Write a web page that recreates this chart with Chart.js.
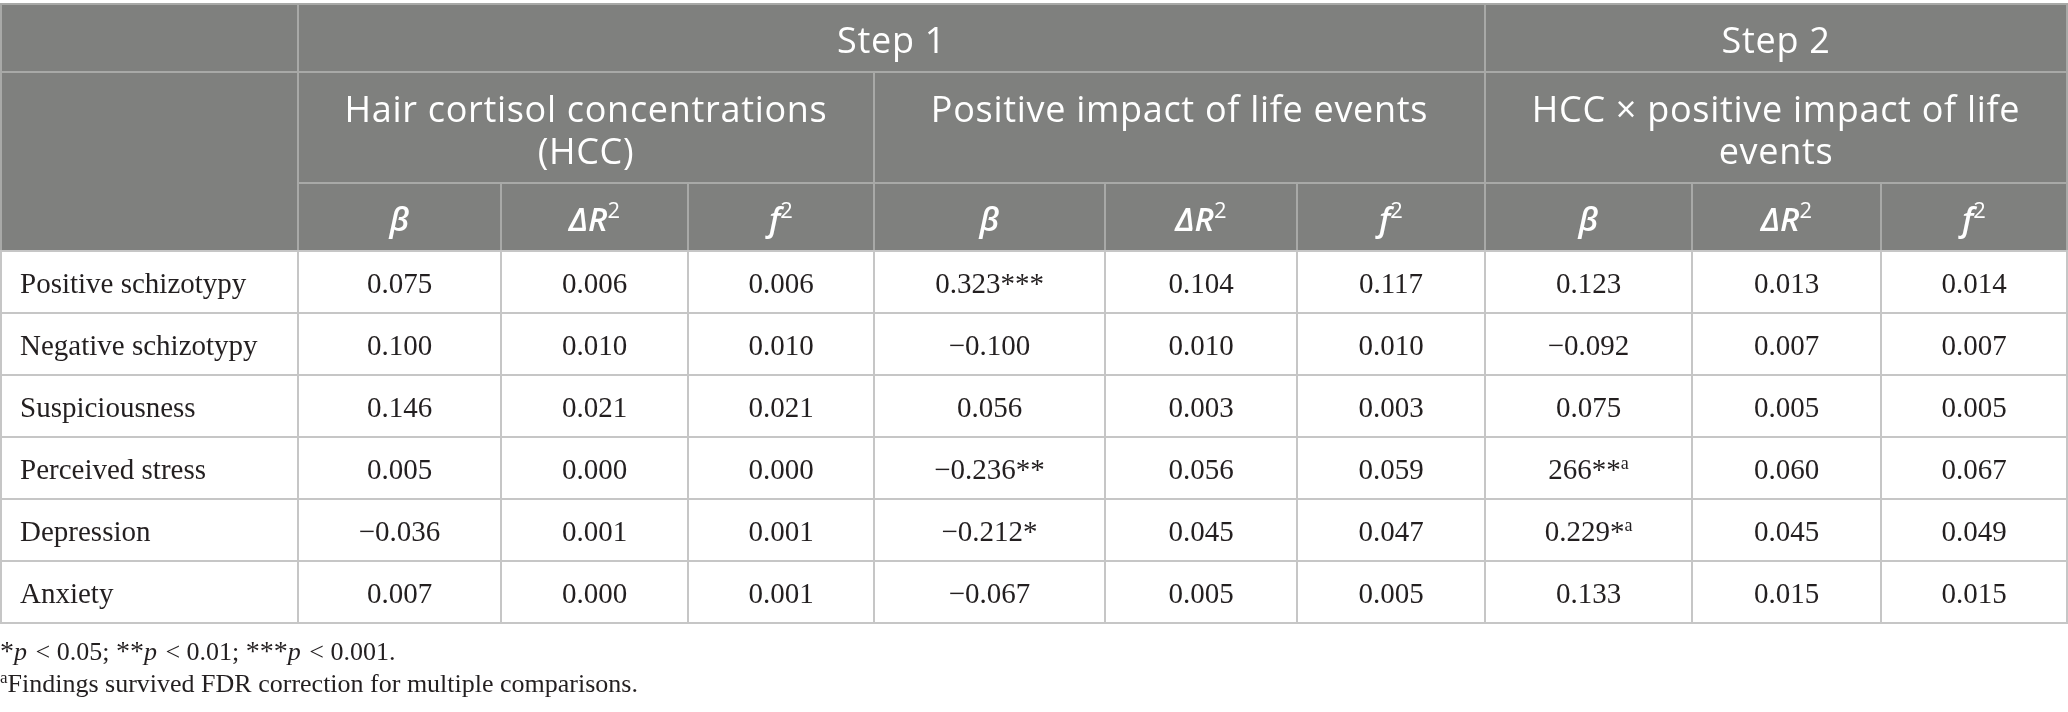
<!DOCTYPE html>
<html>
<head>
<meta charset="utf-8">
<script src="https://cdn.jsdelivr.net/npm/chart.js@4.4.0/dist/chart.umd.min.js"></script>
<style>
  html, body { margin: 0; padding: 0; background: #fff; }
  #wrap { width: 2068px; height: 712px; }
</style>
</head>
<body>
<div id="wrap"><canvas id="tableChart"></canvas></div>
<script>
// table content
const outcomes = ["Positive schizotypy", "Negative schizotypy", "Suspiciousness", "Perceived stress", "Depression", "Anxiety"];
const steps = ["Step 1", "Step 2"];
const predictors = ["Hair cortisol concentrations\n(HCC)", "Positive impact of life events", "HCC \u00d7 positive impact of life\nevents"];
const statNames = ["\u03b2", "\u0394R2", "f2"];

const hccBeta = [0.075, 0.100, 0.146, 0.005, -0.036, 0.007];
const hccDeltaR2 = [0.006, 0.010, 0.021, 0.000, 0.001, 0.000];
const hccF2 = [0.006, 0.010, 0.021, 0.000, 0.001, 0.001];

const lifeBeta = [0.323, -0.100, 0.056, -0.236, -0.212, -0.067];
const lifeStars = ["***", "", "", "**", "*", ""];
const lifeDeltaR2 = [0.104, 0.010, 0.003, 0.056, 0.045, 0.005];
const lifeF2 = [0.117, 0.010, 0.003, 0.059, 0.047, 0.005];

const interBeta = [0.123, -0.092, 0.075, 266, 0.229, 0.133]; // "266" printed as-is in the source
const interStars = ["", "", "", "**", "*", ""];
const interFdr = [false, false, false, true, true, false];
const interDeltaR2 = [0.013, 0.007, 0.005, 0.060, 0.045, 0.015];
const interF2 = [0.014, 0.007, 0.005, 0.067, 0.049, 0.015];

const footnotes = ["*p < 0.05; **p < 0.01; ***p < 0.001.", "Findings survived FDR correction for multiple comparisons."];

// layout (reference pixel units)
const W = 2068, H = 712;
const colEdges = [0, 298, 501, 688, 874, 1105, 1297, 1485, 1692, 1881, 2067];
const headEdges = [4, 72, 183, 251];
const rowH = 62;

const HEAD_BG = "#7f807e";
const HEAD_LINE = "#a8a9a7";
const BODY_LINE = "#c6c6c6";
const TEXT = "#231f20";
const SERIF = "'Liberation Serif', 'DejaVu Serif', serif";
const SANS = "'Open Sans', 'Noto Sans', sans-serif";

function fmt(v) {
  const a = Math.abs(v);
  const s = a >= 1 ? String(a) : a.toFixed(3);
  return (v < 0 ? "\u2212" : "") + s;
}

const columns = [
  { vals: hccBeta }, { vals: hccDeltaR2 }, { vals: hccF2 },
  { vals: lifeBeta, stars: lifeStars }, { vals: lifeDeltaR2 }, { vals: lifeF2 },
  { vals: interBeta, stars: interStars, fdr: interFdr }, { vals: interDeltaR2 }, { vals: interF2 }
];

// one scatter dataset per value column, points at cell centres
const datasets = columns.map((col, c) => ({
  data: col.vals.map((v, r) => ({
    x: (colEdges[c + 1] + colEdges[c + 2]) / 2,
    y: headEdges[3] + rowH * (r + 0.5),
    label: fmt(v) + (col.stars ? col.stars[r] : ""),
    sup: col.fdr && col.fdr[r] ? "a" : ""
  })),
  pointRadius: 0,
  showLine: false
}));

function runs(ctx, parts, x, y) {
  // parts: [text, font, dy]
  let total = 0;
  parts.forEach(p => { ctx.font = p[1]; total += ctx.measureText(p[0]).width; });
  let cx = x - total / 2;
  parts.forEach(p => {
    ctx.font = p[1];
    ctx.textAlign = "left";
    ctx.fillText(p[0], cx, y + (p[2] || 0));
    cx += ctx.measureText(p[0]).width;
  });
}

const tablePlugin = {
  id: "tablePlugin",
  afterDatasetsDraw(chart) {
    const ctx = chart.ctx;
    const xs = chart.scales.x, ys = chart.scales.y;
    const X = v => xs.getPixelForValue(v);
    const Y = v => ys.getPixelForValue(v);
    const bodyTop = headEdges[3], bodyBot = headEdges[3] + rowH * outcomes.length;

    ctx.save();
    // header background
    ctx.fillStyle = HEAD_BG;
    ctx.fillRect(X(0), Y(headEdges[0]), X(W) - X(0), Y(headEdges[3]) - Y(headEdges[0]));

    function hline(x0, x1, y, col) {
      ctx.strokeStyle = col; ctx.lineWidth = 2;
      ctx.beginPath(); ctx.moveTo(X(x0), Y(y)); ctx.lineTo(X(x1), Y(y)); ctx.stroke();
    }
    function vline(x, y0, y1, col) {
      ctx.strokeStyle = col; ctx.lineWidth = 2;
      ctx.beginPath(); ctx.moveTo(X(x), Y(y0)); ctx.lineTo(X(x), Y(y1)); ctx.stroke();
    }

    // header grid
    hline(0, W, headEdges[0], HEAD_LINE);
    hline(0, W, headEdges[1], HEAD_LINE);
    hline(colEdges[1], W, headEdges[2], HEAD_LINE);
    vline(colEdges[0] + 1, headEdges[0], headEdges[3], HEAD_LINE);
    vline(colEdges[1], headEdges[0], headEdges[3], HEAD_LINE);
    vline(colEdges[7], headEdges[0], headEdges[3], HEAD_LINE);
    vline(colEdges[10], headEdges[0], headEdges[3], HEAD_LINE);
    vline(colEdges[4], headEdges[1], headEdges[3], HEAD_LINE);
    [2, 3, 5, 6, 8, 9].forEach(i => vline(colEdges[i], headEdges[2], headEdges[3], HEAD_LINE));

    // body grid
    for (let r = 0; r <= outcomes.length; r++) hline(0, W, bodyTop + rowH * r, BODY_LINE);
    colEdges.forEach((e, i) => vline(i === 0 ? e + 1 : e, bodyTop, bodyBot, BODY_LINE));

    // header text
    ctx.fillStyle = "#ffffff";
    ctx.textBaseline = "alphabetic";
    ctx.textAlign = "center";
    ctx.font = "400 36px " + SANS;
    ctx.letterSpacing = "0.7px";
    ctx.fillText(steps[0], X((colEdges[1] + colEdges[7]) / 2), Y(53));
    ctx.fillText(steps[1], X((colEdges[7] + colEdges[10]) / 2), Y(53));
    const groupSpans = [[1, 4], [4, 7], [7, 10]];
    predictors.forEach((p, i) => {
      const cx = X((colEdges[groupSpans[i][0]] + colEdges[groupSpans[i][1]]) / 2);
      p.split("\n").forEach((line, k) => ctx.fillText(line, cx, Y(122 + k * 42)));
    });
    ctx.letterSpacing = "0px";
    const statFont = "italic 600 33px " + SANS;
    const supFont = "400 22px " + SANS;
    for (let c = 0; c < 9; c++) {
      const cx = X((colEdges[c + 1] + colEdges[c + 2]) / 2);
      const s = statNames[c % 3];
      const y = Y(231);
      if (s.endsWith("2")) runs(ctx, [[s.slice(0, -1), statFont, 0], ["2", supFont, -13]], cx, y);
      else runs(ctx, [[s, statFont, 0]], cx, y);
    }

    // body text
    ctx.fillStyle = TEXT;
    ctx.font = "29px " + SERIF;
    ctx.textAlign = "left";
    outcomes.forEach((o, r) => ctx.fillText(o, X(20), Y(bodyTop + rowH * (r + 0.5) + 11)));

    chart.data.datasets.forEach((ds, d) => {
      const meta = chart.getDatasetMeta(d);
      meta.data.forEach((pt, r) => {
        const raw = ds.data[r];
        const parts = [[raw.label, "29px " + SERIF, 11]];
        if (raw.sup) parts.push([raw.sup, "18px " + SERIF, 1]);
        runs(ctx, parts, pt.x, pt.y);
      });
    });

    // footnotes
    ctx.textAlign = "left";
    const fy1 = Y(660), fy2 = Y(692);
    const it = "italic 26px " + SERIF, rg = "26px " + SERIF, st = "28px " + SERIF;
    let fx = X(0);
    const fparts = [["*", st], ["p", it], [" < 0.05; ", rg], ["**", st], ["p", it], [" < 0.01; ", rg], ["***", st], ["p", it], [" < 0.001.", rg]];
    fparts.forEach(p => { ctx.font = p[1]; ctx.fillText(p[0], fx, fy1); fx += ctx.measureText(p[0]).width + (p[1] === it ? 2 : 0); });
    ctx.font = "17px " + SERIF;
    ctx.fillText("a", X(0), fy2 - 9);
    const aw = ctx.measureText("a").width;
    ctx.font = rg;
    ctx.fillText(footnotes[1], X(0) + aw, fy2);
    ctx.restore();
  }
};

new Chart(document.getElementById("tableChart").getContext("2d"), {
  type: "scatter",
  data: { datasets },
  options: {
    responsive: true,
    maintainAspectRatio: false,
    animation: false,
    layout: { padding: 0 },
    plugins: { legend: { display: false }, tooltip: { enabled: false } },
    scales: {
      x: { type: "linear", min: 0, max: W, display: false },
      y: { type: "linear", min: 0, max: H, reverse: true, display: false }
    }
  },
  plugins: [tablePlugin]
});
</script>
</body>
</html>
